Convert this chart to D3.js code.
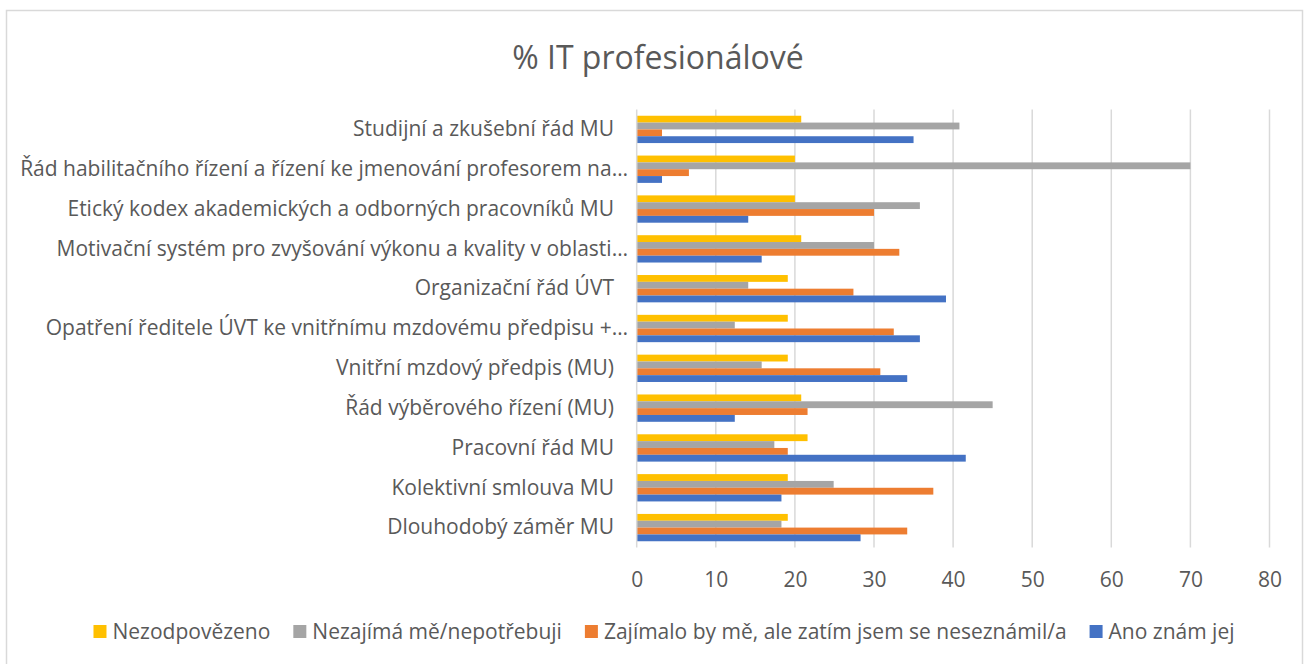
<!DOCTYPE html>
<html>
<head>
<meta charset="utf-8">
<script src="https://cdn.jsdelivr.net/npm/d3@7"></script>
<style>
  html, body { margin: 0; padding: 0; background: #fff; }
  svg { display: block; font-family: "Open Sans", sans-serif; }
</style>
</head>
<body>
<svg id="chart" width="1306" height="664"></svg>
<script>
// Categories (top to bottom) and the four answer series, in %
const categories = [
  "Studijní a zkušební řád MU",
  "Řád habilitačního řízení a řízení ke jmenování profesorem na…",
  "Etický kodex akademických a odborných pracovníků MU",
  "Motivační systém pro zvyšování výkonu a kvality v oblasti…",
  "Organizační řád ÚVT",
  "Opatření ředitele ÚVT ke vnitřnímu mzdovému předpisu +…",
  "Vnitřní mzdový předpis (MU)",
  "Řád výběrového řízení (MU)",
  "Pracovní řád MU",
  "Kolektivní smlouva MU",
  "Dlouhodobý záměr MU"
];
const seriesNames = [
  "Nezodpovězeno",
  "Nezajímá mě/nepotřebuji",
  "Zajímalo by mě, ale zatím jsem se neseznámil/a",
  "Ano znám jej"
];
const nezodpovezeno = [20.8, 20.0, 20.0, 20.8, 19.1, 19.1, 19.1, 20.8, 21.6, 19.1, 19.1];
const nezajima      = [40.8, 70.0, 35.8, 30.0, 14.1, 12.4, 15.8, 45.0, 17.4, 24.9, 18.3];
const zajimalo      = [3.2, 6.6, 30.0, 33.2, 27.4, 32.5, 30.8, 21.6, 19.1, 37.5, 34.2];
const anoZnam       = [35.0, 3.2, 14.1, 15.8, 39.1, 35.8, 34.2, 12.4, 41.6, 18.3, 28.3];
const xTicks = [0, 10, 20, 30, 40, 50, 60, 70, 80];
const colors = ["#FFC000", "#A5A5A5", "#ED7D31", "#4472C4"];
const title = "% IT profesionálové";

const seriesValues = [nezodpovezeno, nezajima, zajimalo, anoZnam];
const textColor = "#595959";
const labelSize = 21;

const svg = d3.select("#chart");

// chart frame
svg.append("rect")
  .attr("x", 6.5).attr("y", 10.5)
  .attr("width", 1296).attr("height", 660)
  .attr("fill", "#fff").attr("stroke", "#d9d9d9").attr("stroke-width", 1.5);

// title
svg.append("text")
  .attr("x", 658).attr("y", 69)
  .attr("text-anchor", "middle")
  .attr("fill", textColor)
  .attr("font-size", 32)
  .text(title);

const plotTop = 109.5, plotBottom = 547.5;
const x = d3.scaleLinear().domain([0, 80]).range([636.7, 1269.5]);
const y = d3.scaleBand().domain(categories).range([plotTop, plotBottom]);
const inner = d3.scaleBand().domain(seriesNames).range([6.25, y.bandwidth() - 6.25]);

// vertical gridlines
svg.append("g").selectAll("line")
  .data(xTicks.filter(t => t > 0))
  .join("line")
  .attr("x1", d => x(d)).attr("x2", d => x(d))
  .attr("y1", plotTop).attr("y2", plotBottom)
  .attr("stroke", "#d9d9d9").attr("stroke-width", 1.5);

// bars
const groups = svg.append("g").selectAll("g")
  .data(categories)
  .join("g")
  .attr("transform", d => `translate(0,${y(d)})`);

groups.selectAll("rect")
  .data((c, i) => seriesNames.map((s, k) => ({ s, k, v: seriesValues[k][i] })))
  .join("rect")
  .attr("x", x(0))
  .attr("y", d => inner(d.s))
  .attr("width", d => x(d.v) - x(0))
  .attr("height", inner.bandwidth())
  .attr("fill", d => colors[d.k]);

// category axis line
svg.append("line")
  .attr("x1", x(0)).attr("x2", x(0))
  .attr("y1", plotTop).attr("y2", plotBottom)
  .attr("stroke", "#d9d9d9").attr("stroke-width", 1.5);

// category labels
const yAxis = svg.append("g")
  .attr("transform", `translate(614,0)`)
  .call(d3.axisLeft(y).tickSize(0).tickPadding(0));
yAxis.select(".domain").remove();
yAxis.selectAll("text")
  .attr("fill", textColor)
  .attr("font-size", labelSize)
  .attr("font-family", "Open Sans, sans-serif")
  .attr("x", d => d.endsWith("…") ? 14 : 0);

// value axis labels
const xAxis = svg.append("g")
  .attr("transform", `translate(0,${plotBottom})`)
  .call(d3.axisBottom(x).tickValues(xTicks).tickSize(0).tickPadding(25));
xAxis.select(".domain").remove();
xAxis.selectAll("text")
  .attr("fill", textColor)
  .attr("font-size", labelSize)
  .attr("font-family", "Open Sans, sans-serif");

// legend
const legend = svg.append("g").attr("transform", "translate(0,632)");
const items = legend.selectAll("g").data(seriesNames).join("g");
items.append("rect")
  .attr("y", -7).attr("width", 13).attr("height", 13)
  .attr("fill", (d, i) => colors[i]);
items.append("text")
  .attr("x", 19).attr("dy", "0.35em")
  .attr("fill", textColor).attr("font-size", labelSize)
  .text(d => d);
let cursor = 0;
const offsets = [];
items.each(function () {
  offsets.push(cursor);
  const w = d3.select(this).select("text").node().getComputedTextLength();
  cursor += 19 + w + 23;
});
const totalW = cursor - 23;
const startX = 664 - totalW / 2;
items.attr("transform", (d, i) => `translate(${startX + offsets[i]},0)`);
</script>
</body>
</html>
